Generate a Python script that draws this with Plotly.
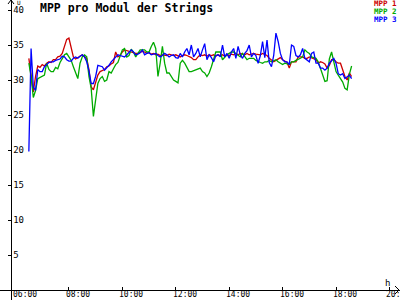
import pandas as pd
import plotly.graph_objects as go

# 5-minute samples from 06:30 to 18:35
times = pd.date_range("2024-06-01 06:30", periods=146, freq="5min")

mpp1 = [33.1, 31.0, 28.3, 30.5, 32.0, 31.8, 32.2, 32.0, 32.4, 32.6,
        32.5, 32.9, 32.9, 33.3, 33.4, 33.8, 34.8, 35.8, 36.0, 34.5,
        33.3, 33.0, 33.2, 33.3, 33.6, 33.3, 33.1, 31.5, 29.0, 28.6,
        29.8, 30.7, 31.2, 31.4, 31.5, 31.9, 32.0, 32.3, 32.5, 34.0,
        33.3, 33.5, 34.0, 34.3, 34.2, 34.0, 34.0, 33.9, 33.8, 33.8,
        34.0, 34.1, 34.0, 33.8, 33.9, 33.7, 33.8, 33.6, 33.7, 33.5,
        33.6, 33.6, 33.5, 33.7, 33.6, 33.5, 33.6, 33.4, 33.3, 33.5,
        33.6, 33.5, 33.4, 33.2, 32.9, 32.9, 33.3, 33.6, 33.5, 33.6,
        33.4, 33.6, 33.5, 33.6, 33.4, 33.6, 33.5, 33.6, 33.4, 33.6,
        33.5, 33.7, 33.6, 33.8, 33.6, 33.8, 33.7, 33.6, 33.8, 33.6,
        33.7, 33.8, 33.7, 33.6, 33.6, 33.8, 33.7, 33.5, 33.1, 32.8,
        32.6, 32.8, 33.0, 33.2, 32.9, 32.7, 32.5, 31.7, 32.6, 32.6,
        32.6, 33.3, 33.3, 33.3, 33.1, 33.1, 33.3, 33.2, 33.1, 32.9,
        32.4, 32.6, 32.5, 32.3, 31.7, 32.1, 32.9, 32.9, 32.6, 32.4,
        32.4, 31.5, 30.5, 30.0, 31.0, 30.5]

mpp2 = [32.4, 30.5, 27.5, 28.5, 30.2, 30.4, 30.5, 30.7, 32.4, 31.5,
        31.2, 31.2, 31.8, 31.6, 32.5, 33.0, 33.6, 33.8, 33.2, 32.8,
        31.9, 31.0, 30.2, 32.4, 33.3, 33.6, 33.3, 30.5, 28.8, 24.8,
        27.5, 29.5, 30.2, 30.5, 29.8, 30.0, 31.2, 31.0, 31.6, 32.2,
        32.5, 33.5, 34.3, 34.5, 33.3, 33.5, 34.4, 34.0, 33.3, 33.8,
        34.3, 34.3, 34.3, 34.0, 34.0, 34.8, 35.4, 34.5, 30.5, 32.4,
        34.8, 32.4, 31.0, 31.0, 30.5, 30.0, 29.8, 29.6, 32.4, 32.8,
        32.4, 31.8, 31.2, 31.2, 31.3, 31.4, 31.6, 31.7, 31.2, 31.0,
        30.5, 31.0, 31.9, 32.8, 34.0, 34.0, 34.0, 32.9, 33.3, 33.6,
        33.8, 34.0, 34.0, 33.8, 33.6, 33.3, 33.8, 33.4, 32.9, 33.1,
        33.1, 33.1, 32.8, 32.6, 32.5, 32.4, 32.6, 32.6, 32.8, 32.6,
        32.7, 32.9, 32.6, 32.4, 32.2, 32.4, 32.3, 32.2, 32.6, 32.6,
        32.8, 32.9, 33.1, 33.3, 34.3, 34.0, 33.8, 33.3, 33.2, 33.1,
        32.6, 31.7, 30.7, 29.8, 29.9, 33.0, 34.0, 32.5, 31.2, 30.7,
        30.2, 29.7, 28.8, 28.6, 30.8, 32.0]

mpp3 = [19.8, 34.5, 29.0, 28.5, 31.5, 31.2, 31.2, 31.9, 32.2, 32.5,
        32.6, 32.6, 32.8, 32.9, 33.0, 33.4, 33.3, 32.9, 32.7, 32.7,
        33.1, 33.3, 33.1, 33.4, 33.6, 33.3, 32.6, 31.3, 29.5, 29.5,
        30.5, 32.1, 32.0, 31.9, 31.4, 31.7, 32.1, 32.6, 32.9, 33.3,
        33.6, 33.5, 33.4, 33.3, 33.6, 34.0, 34.3, 34.0, 33.6, 33.7,
        33.9, 34.3, 33.6, 33.8, 33.9, 33.6, 33.7, 33.8, 33.5, 33.3,
        33.5, 33.8, 33.6, 33.3, 33.5, 33.6, 33.2, 33.1, 33.8, 33.3,
        34.0, 34.5, 33.6, 35.0, 33.3, 33.8, 34.5, 33.3, 34.3, 35.2,
        32.9, 33.6, 33.2, 32.6, 33.5, 33.6, 33.3, 35.0, 33.3, 33.8,
        33.1, 34.0, 34.5, 33.1, 34.8, 33.6, 33.1, 33.8, 34.2, 35.0,
        33.3, 33.8, 33.5, 32.4, 33.5, 35.5, 33.2, 35.7, 32.5, 31.9,
        33.5, 36.7, 35.5, 33.8, 32.9, 32.6, 32.6, 32.2, 35.0, 34.8,
        33.5, 33.3, 33.6, 34.5, 33.1, 32.9, 32.6, 33.8, 34.0, 32.4,
        32.4, 31.7, 31.7, 31.4, 31.7, 32.4, 32.8, 33.1, 32.4, 30.9,
        30.7, 30.9, 30.2, 30.5, 30.7, 30.2]

series_names = ["MPP 1", "MPP 2", "MPP 3"]
series_colors = ["#cc0000", "#00aa00", "#0000ff"]
y_ticks = [5, 10, 15, 20, 25, 30, 35, 40]
x_ticks = list(pd.date_range("2024-06-01 06:00", "2024-06-01 20:00", freq="2h"))
x_tick_text = ["06:00", "08:00", "10:00", "12:00", "14:00", "16:00", "18:00", "20:00"]
title = "MPP pro Modul der Strings"

W, H = 400, 300
MONO = "DejaVu Sans Mono"

fig = go.Figure()
for name, vals, col in zip(series_names, [mpp1, mpp2, mpp3], series_colors):
    fig.add_trace(go.Scatter(x=times, y=vals, mode="lines", name=name,
                             line=dict(color=col, width=1.3), showlegend=False))

fig.update_layout(
    width=W, height=H,
    margin=dict(l=0, r=0, t=0, b=0),
    paper_bgcolor="white", plot_bgcolor="white",
    xaxis=dict(
        range=["2024-06-01 05:25:11", "2024-06-01 20:23:42"],
        anchor="free", position=10 / H,
        showline=True, linecolor="black", linewidth=1,
        showgrid=False, zeroline=False,
        tickvals=x_ticks, showticklabels=False,
        ticks="inside", ticklen=3, tickcolor="black",
    ),
    yaxis=dict(
        range=[-10 / 7, 300 / 7 - 10 / 7],
        anchor="free", position=11 / W,
        showline=True, linecolor="black", linewidth=1,
        showgrid=False, zeroline=False,
        tickvals=y_ticks,
        ticks="outside", ticklen=3, tickcolor="black",
        ticklabelposition="inside",
        tickfont=dict(family=MONO, size=9, color="black"),
    ),
)

# x tick labels (left-aligned just left of each tick, sitting on the bottom edge)
for tv, tt in zip(x_ticks, x_tick_text):
    fig.add_annotation(text=tt, x=tv, xref="x", y=0, yref="paper",
                       xanchor="left", yanchor="bottom", xshift=-4, yshift=0,
                       showarrow=False, borderpad=0,
                       font=dict(family=MONO, size=8, color="black"))

# arrow heads on the axes
fig.add_shape(type="path", xref="paper", yref="paper",
              path=f"M {8/W},{1-4/H} L {11/W},1 L {14/W},{1-4/H}",
              line=dict(color="black", width=1))
fig.add_shape(type="path", xref="paper", yref="paper",
              path=f"M {395/W},{14/H} L {399/W},{10/H} L {395/W},{6/H}",
              line=dict(color="black", width=1))

# axis unit labels
fig.add_annotation(text="U", xref="paper", yref="paper", x=15 / W, y=1 + 3 / H,
                   xanchor="left", yanchor="top", showarrow=False,
                   font=dict(family=MONO, size=6, color="black"))
fig.add_annotation(text="h", xref="paper", yref="paper", x=383 / W, y=24 / H,
                   xanchor="left", yanchor="top", showarrow=False,
                   font=dict(family=MONO, size=9, color="black"))

# title
fig.add_annotation(text="<b>" + title + "</b>", xref="paper", yref="paper",
                   x=38 / W, y=1 + 1 / H, xanchor="left", yanchor="top",
                   showarrow=False,
                   font=dict(family=MONO, size=11.5, color="black"))

# legend texts
for k, (name, col) in enumerate(zip(series_names, series_colors)):
    fig.add_annotation(text="<b>" + name + "</b>", xref="paper", yref="paper",
                       x=398 / W, y=1 + 2 / H - (7.8 * k) / H,
                       xanchor="right", yanchor="top", showarrow=False,
                       borderpad=0,
                       font=dict(family=MONO, size=7.5, color=col))

fig.write_html("out.html")
